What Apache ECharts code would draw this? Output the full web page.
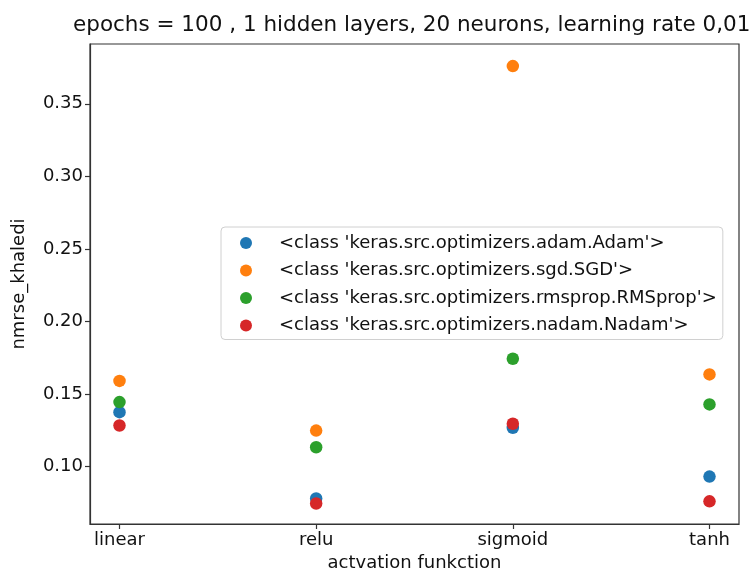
<!DOCTYPE html>
<html>
<head>
<meta charset="utf-8">
<script src="https://cdn.jsdelivr.net/npm/echarts@6/dist/echarts.min.js"></script>
<style>html,body{margin:0;padding:0;background:#fff}#c{width:749px;height:578px}</style>
</head>
<body>
<div id="c"></div>
<script>
const categories = ['linear', 'relu', 'sigmoid', 'tanh'];
const seriesNames = [
  "<class 'keras.src.optimizers.adam.Adam'>",
  "<class 'keras.src.optimizers.sgd.SGD'>",
  "<class 'keras.src.optimizers.rmsprop.RMSprop'>",
  "<class 'keras.src.optimizers.nadam.Nadam'>"
];
const adam    = [0.1375, 0.078, 0.1267, 0.0931];
const sgd     = [0.159, 0.1248, 0.376, 0.1635];
const rmsprop = [0.1444, 0.1133, 0.1743, 0.1428];
const nadam   = [0.1283, 0.0745, 0.1295, 0.076];
const yTicks = [0.10, 0.15, 0.20, 0.25, 0.30, 0.35];
const colors = ['#1f77b4', '#ff7f0e', '#2ca02c', '#d62728'];

const allValues = [adam, sgd, rmsprop, nadam];
const font = 'DejaVu Sans';
const chart = echarts.init(document.getElementById('c'));
chart.setOption({
  animation: false,
  backgroundColor: '#fff',
  textStyle: { fontFamily: font },
  title: {
    text: 'epochs = 100 , 1 hidden layers, 20 neurons, learning rate 0,01',
    left: 68, top: 9,
    textStyle: { fontFamily: font, fontSize: 21.5, fontWeight: 'normal', color: '#111' }
  },
  grid: {
    left: 90, right: 10, top: 44, bottom: 54,
    show: true, borderColor: '#333', borderWidth: 1.2, backgroundColor: '#fff'
  },
  legend: {
    orient: 'vertical', left: 221, top: 227,
    data: seriesNames,
    icon: 'circle', itemWidth: 12, itemHeight: 12, itemGap: 9.5,
    padding: [7, 6, 5, 19],
    backgroundColor: '#fff', borderColor: '#d0d0d0', borderWidth: 1, borderRadius: 4,
    textStyle: { fontFamily: font, fontSize: 18, lineHeight: 18, color: '#111', padding: [0, 0, 0, 22] }
  },
  xAxis: {
    type: 'value', min: -0.15, max: 3.15,
    name: 'actvation funkction', nameLocation: 'middle', nameGap: 30,
    nameTextStyle: { fontFamily: font, fontSize: 18, color: '#111' },
    splitLine: { show: false },
    axisLine: { show: true, onZero: false, lineStyle: { color: '#333', width: 1.2 } },
    axisTick: { show: true, length: 5, customValues: [0, 1, 2, 3], lineStyle: { color: '#333', width: 1.2 } },
    axisLabel: {
      customValues: [0, 1, 2, 3], margin: 7, fontFamily: font, fontSize: 18, color: '#111',
      formatter: v => categories[Math.round(v)] || ''
    }
  },
  yAxis: {
    type: 'value', min: 0.0604, max: 0.3912,
    name: 'nmrse_khaledi', nameLocation: 'middle', nameGap: 62,
    nameTextStyle: { fontFamily: font, fontSize: 18, color: '#111' },
    splitLine: { show: false },
    axisLine: { show: true, onZero: false, lineStyle: { color: '#333', width: 1.2 } },
    axisTick: { show: true, length: 5, customValues: yTicks, lineStyle: { color: '#333', width: 1.2 } },
    axisLabel: {
      customValues: yTicks, margin: 7, fontFamily: font, fontSize: 18, color: '#111',
      formatter: v => v.toFixed(2)
    }
  },
  series: allValues.map((vals, i) => ({
    name: seriesNames[i],
    type: 'scatter',
    symbol: 'circle',
    symbolSize: 12.5,
    itemStyle: { color: colors[i], opacity: 1 },
    data: vals.map((v, j) => [j, v])
  }))
});
</script>
</body>
</html>
